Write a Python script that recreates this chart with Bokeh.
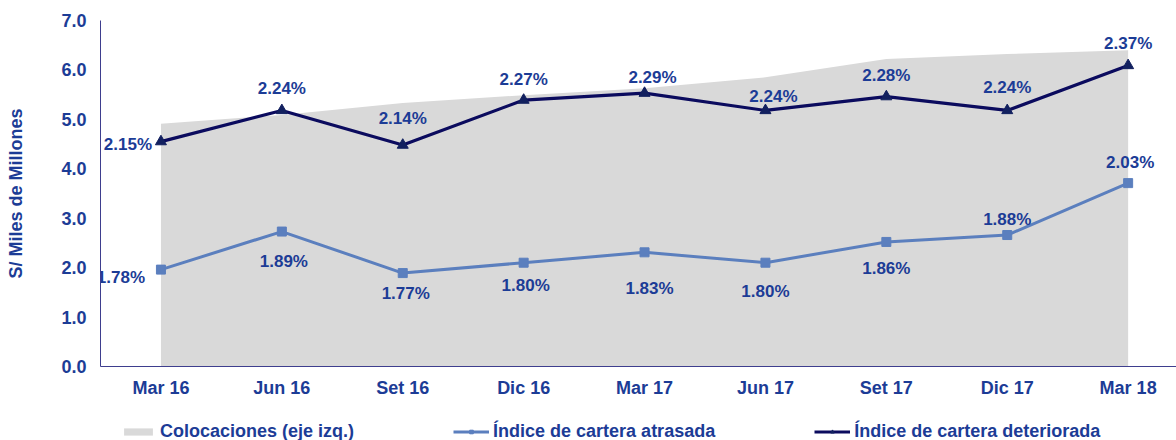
from bokeh.plotting import figure
from bokeh.layouts import column
from bokeh.models import (Range1d, FixedTicker, NumeralTickFormatter, ColumnDataSource,
                          Legend, LegendItem)
from bokeh.core.properties import value
from bokeh.embed import file_html
from bokeh.resources import INLINE

# ---- data ----
periods = ["Mar 16", "Jun 16", "Set 16", "Dic 16", "Mar 17", "Jun 17", "Set 17", "Dic 17", "Mar 18"]
colocaciones = [4.91, 5.09, 5.33, 5.49, 5.63, 5.85, 6.22, 6.32, 6.40]
cartera_atrasada = [1.78, 1.89, 1.77, 1.80, 1.83, 1.80, 1.86, 1.88, 2.03]
cartera_deteriorada = [2.15, 2.24, 2.14, 2.27, 2.29, 2.24, 2.28, 2.24, 2.37]
y_ticks = [0, 1, 2, 3, 4, 5, 6, 7]
legend_labels = ["Colocaciones (eje izq.)", "Índice de cartera atrasada", "Índice de cartera deteriorada"]

# ---- styling ----
FONT = "Liberation Sans"
TXT = "#1C3C96"
NAVY = "#0B0B5E"
TRI = "#12205F"
STEEL = "#5B7FBE"
GRAY = "#D9D9D9"
AXIS = "#3E3E8E"
det_dx = [-33, 0, 0, 0, 8, 8, 0, 0, 0]
det_dy = [3, -22, -27, -21, -16, -14, -21, -23, -22]
atr_dx = [-40, 2, 3, 2, 5, 0, 0, 0, 2]
atr_dy = [8, 30, 20, 23, 36, 29, 27, -16, -21]

xs = list(range(len(periods)))

p = figure(width=1176, height=400, x_range=Range1d(-0.5, 8.40), y_range=Range1d(0, 7),
           output_backend="svg", toolbar_location=None,
           min_border_left=100, min_border_right=0, min_border_top=20, min_border_bottom=32)
p.extra_y_ranges = {"pct": Range1d(1.5, 2.5)}
p.outline_line_color = None
p.xgrid.visible = False
p.ygrid.visible = False

# area
p.varea(x=xs, y1=[0] * len(xs), y2=colocaciones, fill_color=GRAY)

# lines
src_a = ColumnDataSource(dict(x=xs, y=cartera_atrasada,
                              label=[f"{v:.2f}%" for v in cartera_atrasada], dx=atr_dx, dy=atr_dy))
src_d = ColumnDataSource(dict(x=xs, y=cartera_deteriorada,
                              label=[f"{v:.2f}%" for v in cartera_deteriorada], dx=det_dx, dy=det_dy))

p.line("x", "y", source=src_a, y_range_name="pct", line_color=STEEL, line_width=3)
p.scatter("x", "y", source=src_a, y_range_name="pct", marker="square", size=9,
          fill_color=STEEL, line_color=STEEL)
p.line("x", "y", source=src_d, y_range_name="pct", line_color=NAVY, line_width=3.2)
p.scatter("x", "y", source=src_d, y_range_name="pct", marker="triangle", size=11,
          fill_color=TRI, line_color=TRI)

for src in (src_a, src_d):
    p.text("x", "y", text="label", source=src, y_range_name="pct",
           x_offset="dx", y_offset="dy",
           text_font=value(FONT), text_font_style="bold", text_font_size="17px",
           text_color=TXT, text_align="center", text_baseline="middle")

# axes
p.xaxis.ticker = FixedTicker(ticks=xs)
p.xaxis.major_label_overrides = {i: s for i, s in enumerate(periods)}
p.yaxis.ticker = FixedTicker(ticks=y_ticks)
p.yaxis.formatter = NumeralTickFormatter(format="0.0")
for ax in (p.xaxis[0], p.yaxis[0]):
    ax.axis_line_color = AXIS
    ax.axis_line_width = 1
    ax.major_tick_line_color = None
    ax.minor_tick_line_color = None
    ax.major_tick_in = 0
    ax.major_tick_out = 0
    ax.minor_tick_in = 0
    ax.minor_tick_out = 0
    ax.major_label_text_font = FONT
    ax.major_label_text_font_style = "bold"
    ax.major_label_text_color = TXT
p.xaxis.major_label_text_font_size = "18px"
p.xaxis.major_label_standoff = 11
p.yaxis.major_label_text_font_size = "18px"
p.yaxis.major_label_standoff = 14
p.yaxis.axis_label = "S/ Miles de Millones"
p.yaxis.axis_label_text_font = FONT
p.yaxis.axis_label_text_font_style = "bold"
p.yaxis.axis_label_text_font_size = "18px"
p.yaxis.axis_label_text_color = TXT
p.yaxis.axis_label_standoff = 32

# ---- legend strip (separate small figure below; its ranges keep the data out of view) ----
lg = figure(width=1176, height=40, x_range=Range1d(100, 101), y_range=Range1d(100, 101),
            output_backend="svg", toolbar_location=None,
            min_border_left=0, min_border_right=0, min_border_top=0, min_border_bottom=0)
lg.axis.visible = False
lg.xgrid.visible = False
lg.ygrid.visible = False
lg.outline_line_color = None
r_area = lg.varea(x=xs, y1=[0] * len(xs), y2=colocaciones, fill_color=GRAY)
r_la = lg.line(x=xs, y=cartera_atrasada, line_color=STEEL, line_width=3)
r_ma = lg.scatter(x=xs, y=cartera_atrasada, marker="square", size=9, fill_color=STEEL, line_color=STEEL)
r_ld = lg.line(x=xs, y=cartera_deteriorada, line_color=NAVY, line_width=3.2)
r_md = lg.scatter(x=xs, y=cartera_deteriorada, marker="triangle", size=11, fill_color=TRI, line_color=TRI)

legend = Legend(items=[
    LegendItem(label=legend_labels[0], renderers=[r_area]),
    LegendItem(label=legend_labels[1], renderers=[r_la, r_ma]),
    LegendItem(label=legend_labels[2], renderers=[r_ld, r_md]),
], orientation="horizontal", location=(20, -2))
legend.glyph_width = 36
legend.glyph_height = 9
legend.label_standoff = 4
legend.spacing = 99
legend.padding = 0
legend.margin = 0
legend.border_line_color = None
legend.background_fill_alpha = 0
legend.label_text_font = FONT
legend.label_text_font_style = "bold"
legend.label_text_font_size = "18px"
legend.label_text_color = TXT
lg.add_layout(legend, "center")

layout = column(p, lg, spacing=0)
open("out.html", "w").write(file_html(layout, INLINE))
